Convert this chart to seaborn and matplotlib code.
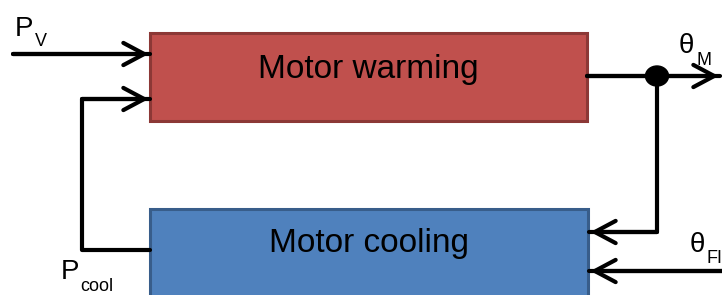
import matplotlib
matplotlib.use("Agg")
import matplotlib.pyplot as plt
import matplotlib.patches as mpatches
import pandas as pd
import seaborn as sns

# Blöcke: Name, linke obere Ecke, Breite, Höhe (Pixelkoordinaten)
block_namen = ["Motor warming", "Motor cooling"]
block_x = [150, 150]
block_y = [33, 209]
block_breite = [437, 438]
block_hoehe = [88, 100]
block_text_y = [78, 252]   # Grundlinie des Textes
block_farbe = ["#C0504D", "#4F81BD"]
block_rand = ["#8C3836", "#385D8A"]

# Verbindungslinien (Pfade) – am letzten Punkt sitzt die Pfeilspitze
pfade = {
    "P_V": ([13, 150], [54, 54]),
    "P_cool": ([150, 82, 82, 150], [250, 250, 99, 99]),
    "theta_M": ([587, 720], [76, 76]),
    "rueckfuehrung": ([657, 657, 589], [76, 232, 232]),
    "theta_FI": ([722, 589], [271, 271]),
}

# Verzweigungspunkt
punkt_x = [657]
punkt_y = [76]

# Beschriftungen: Haupttext, Index, Positionen
labels = [
    ("P", "V", 15, 36, 35, 46),
    ("P", "cool", 61, 279, 80, 291),
    ("θ", "M", 679, 53, 697, 65),
    ("θ", "FI", 690, 252, 706, 263),
]

sns.set_style("white")
plt.rcParams["font.family"] = ["Liberation Sans", "DejaVu Sans"]

fig = plt.figure(figsize=(7.22, 2.95), dpi=100)
ax = fig.add_axes([0, 0, 1, 1])

# Blöcke zeichnen
for name, x, y, b, h, ty, fc, ec in zip(block_namen, block_x, block_y, block_breite,
                                         block_hoehe, block_text_y, block_farbe, block_rand):
    ax.add_patch(mpatches.Rectangle((x, y), b, h, facecolor=fc, edgecolor=ec,
                                    linewidth=2.2, zorder=2))
    ax.text(x + b / 2, ty, name, fontsize=24, ha="center", va="baseline",
            color="black", zorder=3)

# Linien mit seaborn zeichnen, dann Pfeilspitze
for name, (xs, ys) in pfade.items():
    df = pd.DataFrame({"x": xs, "y": ys})
    sns.lineplot(data=df, x="x", y="y", sort=False, estimator=None,
                 color="black", linewidth=3.0, ax=ax, zorder=4)
    ax.annotate("", xy=(xs[-1], ys[-1]), xytext=(xs[-2], ys[-2]),
                arrowprops=dict(arrowstyle="->,head_length=0.75,head_width=0.4",
                                color="black", lw=3.0, shrinkA=0, shrinkB=1,
                                mutation_scale=20),
                zorder=5)

# Verzweigungspunkt
ax.add_patch(mpatches.Ellipse((punkt_x[0], punkt_y[0]), 23, 20,
                              color="black", zorder=6))

# Beschriftungen
for haupt, index, hx, hy, ix, iy in labels:
    ax.text(hx, hy, haupt, fontsize=20, ha="left", va="baseline", color="black")
    ax.text(ix, iy, index, fontsize=13, ha="left", va="baseline", color="black")

ax.set_xlim(0, 722)
ax.set_ylim(295, 0)
ax.axis("off")

plt.savefig("out.png", dpi=100)
